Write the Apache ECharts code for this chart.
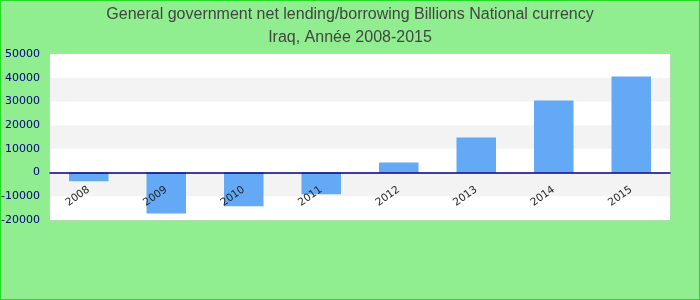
<!DOCTYPE html>
<html><head><meta charset="utf-8">
<script src="https://cdn.jsdelivr.net/npm/echarts@6/dist/echarts.min.js"></script>
<style>html,body{margin:0;padding:0;background:#90EE90}#c{width:700px;height:300px;box-sizing:border-box;border:1px solid #22dd22}</style>
</head><body><div id="c"></div>
<script>
const categories = ['2008','2009','2010','2011','2012','2013','2014','2015'];
const values = [-3700, -17300, -14200, -9150, 4200, 14800, 30400, 40500];
const titleLines = ['General government net lending/borrowing Billions National currency', 'Iraq, Année 2008-2015'];
const yMin = -20000, yMax = 50000, yStep = 10000;
const chart = echarts.init(document.getElementById('c'), null, {renderer:'canvas'});
const option = {
  backgroundColor: '#90EE90',
  animation: false,
  title: {
    text: titleLines.join('\n'),
    left: 'center', top: -3,
    textStyle: {color:'#444', fontSize:16, fontWeight:'normal', fontFamily:'Liberation Sans, Arial, sans-serif', lineHeight:23}
  },
  grid: {left:49, right:29, top:53, bottom:79, show:true, backgroundColor:'#fff', borderColor:'#ccc', borderWidth:1, containLabel:false, outerBoundsMode:'none'},
  xAxis: {
    type:'category', data: categories, position:'bottom', offset:0, z:10,
    axisLine:{onZero:false, lineStyle:{color:'#000080', width:1.5}},
    axisTick:{show:false},
    axisLabel:{rotate:35, color:'#222', fontSize:10.5, margin:16, fontFamily:'DejaVu Sans, sans-serif'}
  },
  yAxis: {
    type:'value', min:yMin, max:yMax, interval:yStep,
    axisLine:{show:false}, axisTick:{show:false},
    splitLine:{show:false},
    splitArea:{show:true, areaStyle:{color:['#ffffff','#f3f3f3']}},
    axisLabel:{color:'#000080', fontSize:11, margin:10, fontFamily:'DejaVu Sans, sans-serif', formatter: v => String(v)}
  },
  series: [{type:'bar', data: values, barWidth:'51%', z:2, itemStyle:{color:'#63a9f5'}}]
};
chart.setOption(option);
const zeroPx = chart.convertToPixel({yAxisIndex:0}, 0);
const bottomPx = chart.convertToPixel({yAxisIndex:0}, yMin);
chart.setOption({xAxis:{offset: -(bottomPx - zeroPx)}});
</script></body></html>
